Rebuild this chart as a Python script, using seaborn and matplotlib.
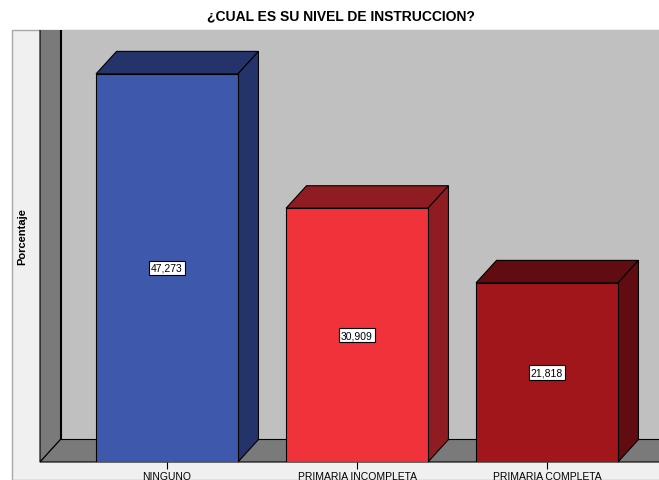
import matplotlib
matplotlib.use("Agg")
import matplotlib.pyplot as plt
import matplotlib.transforms as mtransforms
from matplotlib.patches import Polygon, Rectangle
import seaborn as sns
import pandas as pd

categories = ["NINGUNO", "PRIMARIA INCOMPLETA", "PRIMARIA COMPLETA"]
values = [47.273, 30.909, 21.818]
value_labels = ["47,273", "30,909", "21,818"]
front_colors = ["#3E58AC", "#F0323A", "#A0161A"]
shade_colors = ["#24346A", "#8E1C22", "#600C10"]
title = "¿CUAL ES SU NIVEL DE INSTRUCCION?"
ylabel = "Porcentaje"

sns.set_theme(style="white")
plt.rcParams["font.family"] = ["Liberation Sans", "DejaVu Sans"]
plt.rcParams["text.color"] = "black"
plt.rcParams["xtick.color"] = "black"

W, H, DPI = 659, 481, 100
fig = plt.figure(figsize=(W / DPI, H / DPI), dpi=DPI)
fig.patch.set_facecolor("white")

# frame (light gray panel)
frame = Rectangle((12 / W, 0), 1.2, (H - 31) / H, transform=fig.transFigure,
                  facecolor="#F0F0F0", edgecolor="#A8A8A8", linewidth=1.0, zorder=-5)
fig.patches.append(frame)

# front plane axes: x in category units, y in percent
x_left_px, x_center0, spacing = 40.0, 167.0, 190.0
xmin = (x_left_px - x_center0) / spacing
xmax = -xmin + 2
y0_px, ppu = 463.0, 8.21
ymax = 50.0
left = x_left_px / W
right = (x_center0 + xmax * spacing) / W
bottom = (H - y0_px) / H
top = (H - (y0_px - ymax * ppu)) / H
ax = fig.add_axes([left, bottom, right - left, top - bottom])
ax.patch.set_alpha(0)
for s in ax.spines.values():
    s.set_visible(False)

df = pd.DataFrame({"cat": categories, "val": values})
sns.barplot(data=df, x="cat", y="val", hue="cat", palette=front_colors, saturation=1,
            width=0.747, edgecolor="black", linewidth=0.8, legend=False,
            ax=ax, dodge=False)
for bar in ax.patches:
    bar.set_zorder(5)
ax.set_xlim(xmin, xmax)
ax.set_ylim(0, ymax)

DX, DY = 20.5, 22.5  # depth offset in pixels (display, y up)

fig.canvas.draw()
tD = ax.transData
ident = mtransforms.IdentityTransform()

# clip region: frame top at y=31 px
clip_rect = Rectangle((12, 0), W, H - 31, transform=ident, facecolor="none", edgecolor="none")

def P(x, y, back=False):
    px, py = tD.transform((x, y))
    if back:
        px += DX
        py += DY
    return (px, py)

def add(poly):
    poly.set_clip_on(True)
    ax.add_patch(poly)
    poly.set_transform(ident)
    poly.set_clip_path(clip_rect)

wall_top = 60
# back wall
add(Polygon([P(xmin, 0, True), P(xmax + 1, 0, True), P(xmax + 1, wall_top, True), P(xmin, wall_top, True)],
            closed=True, facecolor="#C0C0C0", edgecolor="black", linewidth=0.8, zorder=1))
# left side wall
add(Polygon([P(xmin, 0), P(xmin, 0, True), P(xmin, wall_top, True), P(xmin, wall_top)],
            closed=True, facecolor="#7A7A7A", edgecolor="black", linewidth=0.8, zorder=2))
# floor
add(Polygon([P(xmin, 0), P(xmax + 1, 0), P(xmax + 1, 0, True), P(xmin, 0, True)],
            closed=True, facecolor="#7A7A7A", edgecolor="black", linewidth=0.8, zorder=2))

# bar 3D faces from the bars' own geometry
bars = [b for b in ax.patches if b.get_zorder() == 5]
for bar, shade in zip(bars, shade_colors):
    x0 = bar.get_x()
    x1 = x0 + bar.get_width()
    h = bar.get_height()
    add(Polygon([P(x0, h), P(x1, h), P(x1, h, True), P(x0, h, True)], closed=True,
                facecolor=shade, edgecolor="black", linewidth=0.8, zorder=3))
    add(Polygon([P(x1, 0), P(x1, 0, True), P(x1, h, True), P(x1, h)], closed=True,
                facecolor=shade, edgecolor="black", linewidth=0.8, zorder=3))

# value labels
for i, (v, lab) in enumerate(zip(values, value_labels)):
    ax.text(i, v / 2, lab, ha="center", va="center", fontsize=7.5, color="black", zorder=10,
            bbox=dict(boxstyle="square,pad=0.2", facecolor="white", edgecolor="black", linewidth=0.8))

# ticks
ax.set_xticks(range(len(categories)))
ax.set_xticklabels(categories, fontsize=7.5, color="black")
ax.set_yticks([])
ax.tick_params(axis="x", bottom=True, length=5, width=0.8, color="black", pad=1.2)
ax.set_xlabel("")
ax.set_ylabel("")

fig.text(341 / W, 1 - 16 / H, title, ha="center", va="center", fontsize=10, fontweight="bold", color="black")
fig.text(22 / W, 1 - 237 / H, ylabel, ha="center", va="center", rotation=90, fontsize=8,
         fontweight="bold", color="black")

fig.savefig("out.png", dpi=DPI)
